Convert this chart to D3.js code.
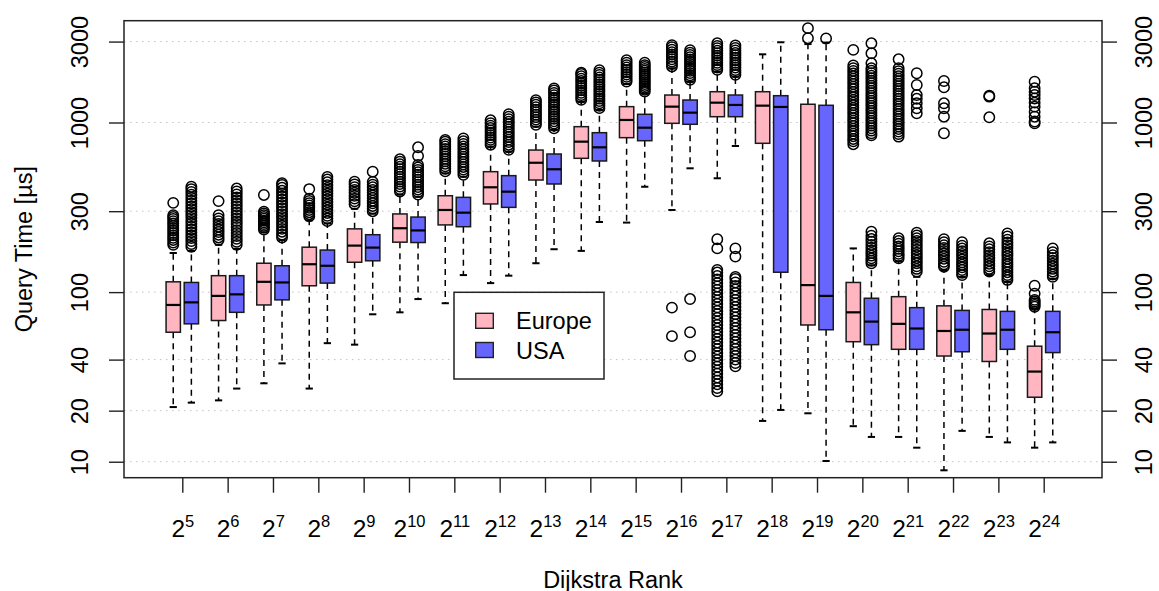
<!DOCTYPE html>
<html>
<head>
<meta charset="utf-8">
<script src="https://cdn.jsdelivr.net/npm/d3@7"></script>
<style>
html,body{margin:0;padding:0;background:#fff;}
svg{display:block;font-family:"Liberation Sans",Arial,Helvetica,sans-serif;}
</style>
</head>
<body>
<svg id="chart" width="1159" height="591"></svg>
<script>
// ---------------- data ----------------
const ranks = [5,6,7,8,9,10,11,12,13,14,15,16,17,18,19,20,21,22,23,24];
const seriesNames = ["Europe","USA"];
const yTicks = [10,20,40,100,300,1000,3000];

const euLow  = [21,23,29,27,49,76,86,113,148,175,257,305,469,17.4,19.3,16.2,14,8.9,14,12.1];
const euQ1   = [58,68,84,109,150,197,249,331,458,615,814,989,1082,754,64,51,46,42,39,24];
const euMed  = [84,95,115,146,188,238,305,415,579,771,1035,1240,1309,1257,110,76,65,59,57,34];
const euQ3   = [115,125,148,184,236,289,370,513,688,945,1240,1452,1519,1519,1281,114,94,83,79,48];
const euHigh = [170,190,225,265,310,375,502,720,945,1326,1687,2088,1994,2524,2900,181,152,135,126,80];
const euOut = [
 [190,196,203,209,216,223,231,238,246,254,262,270,277,284,336],
 [203,210,218,226,234,243,252,262,272,284,344],
 [234,240,246,252,258,264,271,277,284,291,298,374],
 [280,288,296,305,314,324,334,345,356,405],
 [330,343,356,370,385,400,416,432,448],
 [392,405,419,433,448,463,479,495,512,530,548,567,587,607],
 [515,533,551,570,590,610,631,653,675,698,722,746,770,790],
 [740,765,790,815,842,870,898,928,958,990,1030],
 [970,1005,1040,1075,1112,1150,1190,1230,1272,1315,1355],
 [1360,1405,1450,1497,1546,1596,1648,1702,1757,1814,1873,1934,1967],
 [1745,1800,1858,1918,1980,2044,2110,2178,2250,2330],
 [55,81,2140,2210,2285,2360,2440,2520,2600,2690,2780,2860],
 [26,27.2,28.6,30,31.4,33,34.5,36.3,38,39.8,41.8,43.8,46,48.2,50.5,53,55.6,58.3,61,64,67.2,70.5,74,77.5,81.3,85.2,89.4,93.7,98.3,103,108,113,118.6,124.4,130.4,135,181,205,2045,2110,2180,2250,2325,2400,2480,2560,2650,2740,2830,2930],
 [],
 [3140,3600],
 [745,775,800,830,860,890,920,955,990,1025,1060,1100,1140,1180,1220,1265,1310,1360,1410,1460,1515,1570,1625,1685,1745,1810,1875,1945,2015,2090,2170,2680],
 [158,163,168,174,180,186,193,200,208,825,855,885,915,948,980,1015,1050,1086,1124,1163,1203,1245,1288,1333,1380,1428,1477,1528,1581,1636,1693,1752,1813,1876,1941,2010,2088,2359],
 [141,146,151,157,163,169,175,182,189,197,205,864,1082,1213,1298,1613,1757],
 [132,137,142,147,153,159,165,172,179,186,194,1073,1420,1439],
 [82,84,86,88,90,98,109,989,1013,1082,1152,1240,1309,1386,1452,1519,1591,1740]
];

const usLow  = [22.3,27,38,50,74,91,126,125,179,259,418,537,727,20.2,10.1,14,12.1,15.2,13,13];
const usQ1   = [65,76,90,113,153,196,243,316,434,593,781,976,1082,131,60,49,46,44.5,46,44];
const usMed  = [87,97,114,143,183,231,294,391,530,714,932,1143,1269,1235,95,67,61,60,60,58];
const usQ3   = [114,125,143,177,218,277,362,486,652,871,1118,1357,1452,1439,1263,92,81,78,77,77];
const usHigh = [175,180,203,254,290,365,479,673,903,1185,1486,1740,1863,2972,2960,144,123,123,115,120];
const usOut = [
 [185,192,200,208,216,225,234,243,253,263,274,285,296,308,320,333,346,360,375,390,405,418],
 [190,198,206,214,223,232,242,252,262,273,284,296,308,321,334,348,362,377,392,408],
 [210,218,227,236,246,256,266,277,288,300,312,325,338,352,366,381,396,412,428,438],
 [262,272,282,293,304,316,328,340,353,367,381,396,411,427,444,461,478],
 [300,311,322,334,346,359,372,386,400,415,430,446,513],
 [376,389,402,416,430,445,460,476,492,509,526,544,562,635,714],
 [492,510,528,547,566,586,607,628,650,673,697,722,748,775,805],
 [690,715,740,766,793,821,850,880,911,943,976,1010,1045,1082,1120],
 [925,955,985,1017,1050,1084,1120,1156,1194,1233,1273,1315,1358,1402,1448,1495,1545,1590],
 [1215,1255,1296,1338,1382,1427,1474,1522,1572,1623,1676,1731,1788,1846,1906,1968,2035],
 [1520,1560,1600,1642,1685,1729,1774,1820,1868,1916,1966,2017,2070,2124,2180,2250],
 [42,58,91,1785,1840,1897,1956,2017,2080,2145,2212,2280,2350,2425,2500,2580,2670],
 [36.5,38.2,40,42,44,46.2,48.4,50.8,53.3,55.9,58.6,61.4,64.4,67.5,70.8,74.3,77.9,81.7,85.7,89.9,94.2,98.8,103.6,108.7,114,119.5,123,162,181,1910,1975,2040,2110,2180,2250,2330,2410,2490,2570,2660,2750,2850],
 [],
 [3130],
 [148,153,158,164,170,176,183,190,198,206,215,227,840,864,895,925,958,990,1025,1060,1098,1136,1175,1215,1258,1300,1345,1392,1440,1490,1542,1595,1650,1707,1766,1827,1890,1955,2020,2088,2234,2559,2931],
 [132,137,142,148,153,159,165,171,178,185,192,200,208,216,224,1133,1213,1298,1380,1452,1664,1951],
 [126,130,135,140,145,150,156,162,168,174,181,188,197],
 [118,122,126,131,136,141,146,151,157,163,169,175,182,189,196,204,213,222],
 [123,127,132,137,142,147,153,159,165,172,181]
];

// ---------------- layout ----------------
const W = 1159, H = 591;
const L = 124, R = 1102, T = 20.7, B = 477.7;
const colors = ["#FFB6C1", "#6666FF"];
const offsets = [-0.2, 0.2];
const halfW = 0.158, capHalf = 0.08;
const FS = 23.5;

const svg = d3.select("#chart");
svg.append("rect").attr("width", W).attr("height", H).attr("fill", "#fff");

const x = d3.scaleLinear().domain([-1.286, ranks.length - 1 + 1.286]).range([L, R]);
const y = d3.scaleLog().domain([8.05, 3983]).range([B, T]);

// grid
svg.append("g").selectAll("line").data(yTicks).join("line")
  .attr("x1", L).attr("x2", R)
  .attr("y1", d => y(d)).attr("y2", d => y(d))
  .attr("stroke", "#c4c4c4").attr("stroke-width", 1)
  .attr("stroke-dasharray", "1.5,4.5");

const series = [
  {low: euLow, q1: euQ1, med: euMed, q3: euQ3, high: euHigh, out: euOut},
  {low: usLow, q1: usQ1, med: usMed, q3: usQ3, high: usHigh, out: usOut}
];

const gBoxes = svg.append("g");
series.forEach((s, si) => {
  ranks.forEach((r, i) => {
    const c = i + offsets[si];
    const cx = x(c);
    const g = gBoxes.append("g");
    // whiskers
    g.append("line").attr("x1", cx).attr("x2", cx)
      .attr("y1", y(s.q1[i])).attr("y2", y(s.low[i]))
      .attr("stroke", "#000").attr("stroke-width", 1.5).attr("stroke-dasharray", "6,5");
    g.append("line").attr("x1", cx).attr("x2", cx)
      .attr("y1", y(s.q3[i])).attr("y2", y(s.high[i]))
      .attr("stroke", "#000").attr("stroke-width", 1.5).attr("stroke-dasharray", "6,5");
    // staples
    [s.low[i], s.high[i]].forEach(v => {
      g.append("line").attr("x1", x(c - capHalf)).attr("x2", x(c + capHalf))
        .attr("y1", y(v)).attr("y2", y(v))
        .attr("stroke", "#000").attr("stroke-width", 2);
    });
    // box
    g.append("rect")
      .attr("x", x(c - halfW)).attr("width", x(c + halfW) - x(c - halfW))
      .attr("y", y(s.q3[i])).attr("height", y(s.q1[i]) - y(s.q3[i]))
      .attr("fill", colors[si]).attr("stroke", "#1a1a1a").attr("stroke-width", 1.5);
    // median
    g.append("line").attr("x1", x(c - halfW)).attr("x2", x(c + halfW))
      .attr("y1", y(s.med[i])).attr("y2", y(s.med[i]))
      .attr("stroke", "#000").attr("stroke-width", 2.2);
    // outliers
    g.selectAll("circle").data(s.out[i]).join("circle")
      .attr("cx", cx).attr("cy", d => y(d)).attr("r", 5.2)
      .attr("fill", "none").attr("stroke", "#000").attr("stroke-width", 1.5);
  });
});

// plot frame
svg.append("rect").attr("x", L).attr("y", T).attr("width", R - L).attr("height", B - T)
  .attr("fill", "none").attr("stroke", "#222").attr("stroke-width", 1.5);

// left axis
const axL = svg.append("g").attr("transform", `translate(${L},0)`)
  .call(d3.axisLeft(y).tickValues(yTicks).tickFormat(d3.format("d")).tickSize(15).tickSizeOuter(0));
axL.select(".domain").remove();
axL.selectAll(".tick line").attr("stroke", "#222").attr("stroke-width", 1.4);
axL.selectAll(".tick text")
  .attr("transform", "rotate(-90)").attr("x", 0).attr("y", -35.7).attr("dy", 0)
  .attr("text-anchor", "middle").attr("font-size", FS).attr("fill", "#000")
  .style("font-family", "'Liberation Sans',Arial,sans-serif");

// right axis
const axR = svg.append("g").attr("transform", `translate(${R},0)`)
  .call(d3.axisRight(y).tickValues(yTicks).tickFormat(d3.format("d")).tickSize(15).tickSizeOuter(0));
axR.select(".domain").remove();
axR.selectAll(".tick line").attr("stroke", "#222").attr("stroke-width", 1.4);
axR.selectAll(".tick text")
  .attr("transform", "rotate(-90)").attr("x", 0).attr("y", 49.7).attr("dy", 0)
  .attr("text-anchor", "middle").attr("font-size", FS).attr("fill", "#000")
  .style("font-family", "'Liberation Sans',Arial,sans-serif");

// bottom axis
const axB = svg.append("g").attr("transform", `translate(0,${B})`)
  .call(d3.axisBottom(x).tickValues(d3.range(ranks.length)).tickFormat("").tickSize(15).tickSizeOuter(0));
axB.select(".domain").remove();
axB.selectAll(".tick line").attr("stroke", "#222").attr("stroke-width", 1.4);
axB.selectAll(".tick").each(function(d, i) {
  const t = d3.select(this).append("text")
    .attr("y", 537 - B).attr("text-anchor", "middle").attr("fill", "#000")
    .attr("font-size", 24.5).style("font-family", "'Liberation Sans',Arial,sans-serif");
  t.append("tspan").text("2");
  t.append("tspan").attr("dy", -9.7).attr("font-size", 16.5).text(ranks[i]);
});

// axis titles
svg.append("text").attr("x", 613).attr("y", 587.5).attr("text-anchor", "middle")
  .attr("font-size", FS).attr("fill", "#000").text("Dijkstra Rank");
svg.append("text").attr("transform", `translate(32,${(T + B) / 2}) rotate(-90)`)
  .attr("text-anchor", "middle").attr("font-size", FS).attr("fill", "#000")
  .text("Query Time [µs]");

// legend
const lg = svg.append("g");
lg.append("rect").attr("x", 454).attr("y", 292.3).attr("width", 150).attr("height", 86.7)
  .attr("fill", "#fff").attr("stroke", "#222").attr("stroke-width", 1.5);
seriesNames.forEach((n, k) => {
  const cy = 320.8 + k * 29.2;
  lg.append("rect").attr("x", 475.7).attr("y", cy - 7.5).attr("width", 17.6).attr("height", 15)
    .attr("fill", colors[k]).attr("stroke", "#222").attr("stroke-width", 1.4);
  lg.append("text").attr("x", 516).attr("y", cy + 8.6).attr("font-size", FS).attr("fill", "#000").text(n);
});
</script>
</body>
</html>
